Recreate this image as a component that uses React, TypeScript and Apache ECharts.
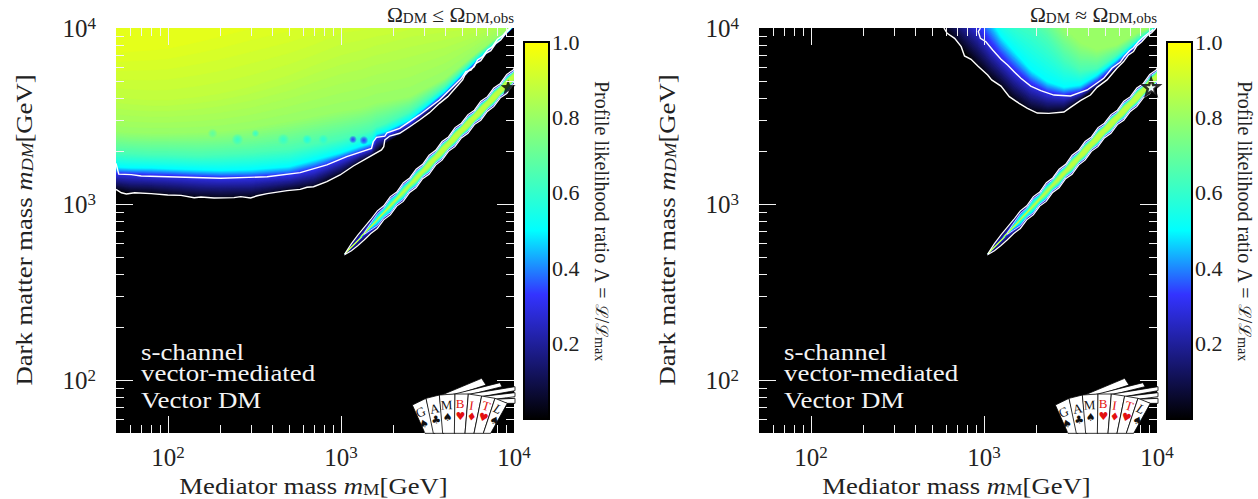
import React, { useEffect, useRef } from "react";
import * as echarts from "echarts";

const FONT = '"Liberation Serif", serif';

// ---- colour scale of the profile likelihood ratio
const colorStops: [number, number[]][] = [
  [0, [0, 0, 0]],
  [0.33, [51, 51, 255]],
  [0.5, [0, 255, 255]],
  [1, [255, 255, 0]],
];
const colorbarTicks = [0.2, 0.4, 0.6, 0.8, 1.0];

// ---- axes (GeV)
const axisMin = 50;
const axisMax = 10000;
const majorTicks = [100, 1000];
const minorTicks = [60, 70, 80, 90, 200, 300, 400, 500, 600, 700, 800, 900, 2000, 3000, 4000, 5000, 6000, 7000, 8000, 9000];

// ---- left panel: relic-density upper limit. Mediator mass knots and log10(mDM) of iso-likelihood curves
const leftMediator = [50, 60, 80, 100, 150, 200, 300, 500, 700, 1000, 1300, 1500, 1600, 1800, 2500, 4000, 6000, 10000];
const leftLevels = [0.03, 0.3, 0.5, 0.65, 0.8, 0.88, 0.95];
const leftOuter = [3.08, 3.064, 3.061, 3.051, 3.036, 3.032, 3.036, 3.074, 3.095, 3.165, 3.241, 3.269, 3.292, 3.345, 3.43, 3.606, 3.79, 4.008];
const leftInner = [3.17, 3.167, 3.161, 3.159, 3.15, 3.146, 3.148, 3.161, 3.193, 3.25, 3.292, 3.316, 3.373, 3.386, 3.458, 3.623, 3.799, 4.011];
const leftCyan = [3.21, 3.206, 3.205, 3.201, 3.195, 3.191, 3.195, 3.212, 3.25, 3.292, 3.33, 3.348, 3.398, 3.413, 3.481, 3.644, 3.816, 4.011];
const leftTeal = [3.292, 3.288, 3.282, 3.282, 3.277, 3.282, 3.292, 3.311, 3.341, 3.371, 3.402, 3.42, 3.439, 3.458, 3.525, 3.67, 3.833, 4.015];
const leftGreen = [3.411, 3.405, 3.402, 3.402, 3.405, 3.411, 3.43, 3.468, 3.496, 3.525, 3.544, 3.563, 3.572, 3.581, 3.61, 3.714, 3.856, 4.023];
const leftLime = [3.61, 3.6, 3.591, 3.591, 3.61, 3.629, 3.667, 3.733, 3.79, 3.847, 3.875, 3.894, 3.903, 3.913, 3.951, 3.979, 4.0, 4.083];
const leftYellow = [3.856, 3.866, 3.875, 3.884, 3.922, 3.951, 3.998, 4.045, 4.083, 4.159, 4.159, 4.159, 4.159, 4.159, 4.159, 4.159, 4.159, 4.159];

// white contour lines of the left panel, log10 mediator and log10 mDM
const leftOuterLineX = [1.699, 1.73, 1.759, 1.807, 1.902, 1.998, 2.075, 2.151, 2.19, 2.266, 2.381, 2.42, 2.477, 2.515, 2.573, 2.688, 2.764, 2.803, 2.841, 2.918, 2.994, 3.071, 3.148, 3.234, 3.247, 3.253, 3.282, 3.339, 3.397, 3.454, 3.511, 3.569, 3.617, 3.665, 3.703, 3.716, 3.741, 3.77, 3.789, 3.818, 3.847, 3.875, 3.904, 3.933, 3.962, 3.99];
const leftOuterLineY = [3.083, 3.064, 3.057, 3.064, 3.059, 3.051, 3.049, 3.036, 3.04, 3.034, 3.036, 3.042, 3.034, 3.047, 3.059, 3.076, 3.083, 3.095, 3.098, 3.127, 3.165, 3.216, 3.259, 3.307, 3.326, 3.364, 3.386, 3.402, 3.439, 3.477, 3.519, 3.572, 3.61, 3.663, 3.705, 3.733, 3.761, 3.78, 3.818, 3.837, 3.875, 3.894, 3.936, 3.955, 3.989, 4.008];
const leftInnerLineX = [1.699, 1.715, 1.787, 1.845, 1.998, 2.305, 2.573, 2.764, 2.918, 3.033, 3.176, 3.186, 3.205, 3.253, 3.266, 3.339, 3.454, 3.569, 3.693, 3.722, 3.751, 3.78, 3.808, 3.837, 3.866, 3.895, 3.923, 3.952, 3.981];
const leftInnerLineY = [3.231, 3.17, 3.167, 3.159, 3.155, 3.146, 3.155, 3.178, 3.222, 3.269, 3.316, 3.354, 3.379, 3.386, 3.405, 3.43, 3.506, 3.591, 3.71, 3.752, 3.761, 3.799, 3.814, 3.856, 3.871, 3.913, 3.932, 3.97, 3.998];

// isolated low-likelihood spots in the left panel: mediator, mDM, lambda, radius
const spotMediator = [1172, 1355, 790, 637, 464, 320, 252, 181];
const spotDM = [2327, 2300, 2327, 2327, 2327, 2518, 2327, 2518];
const spotLambda = [0.33, 0.33, 0.58, 0.55, 0.6, 0.6, 0.6, 0.68];
const spotRadius = [4, 4.5, 5, 5, 6, 4, 6, 5];

// ---- right panel: relic density saturated
const rightLogMediator = [2.715, 2.772, 2.868, 2.964, 3.04, 3.098, 3.174, 3.27, 3.366, 3.462, 3.557, 3.653, 3.768, 3.883, 4.0];
const rightLevels = [0.03, 0.3, 0.5, 0.65, 0.8];
const rightOuter = [4.083, 4.0, 3.894, 3.79, 3.714, 3.667, 3.591, 3.53, 3.515, 3.525, 3.591, 3.667, 3.78, 3.894, 4.008];
const rightInner = [4.2, 4.2, 4.1, 4.0, 3.894, 3.828, 3.752, 3.676, 3.629, 3.614, 3.633, 3.689, 3.79, 3.903, 4.011];
const rightCyan = [4.2, 4.2, 4.2, 4.159, 4.045, 3.951, 3.866, 3.761, 3.695, 3.663, 3.676, 3.733, 3.822, 3.922, 4.015];
const rightTeal = [4.2, 4.2, 4.2, 4.2, 4.2, 4.102, 4.065, 4.027, 3.941, 3.828, 3.761, 3.771, 3.847, 3.936, 4.019];
const rightGreen = [4.3, 4.3, 4.3, 4.3, 4.3, 4.3, 4.3, 4.2, 4.121, 4.0, 3.913, 3.875, 3.903, 3.97, 4.023];

const rightOuterLineX = [2.768, 2.787, 2.83, 2.868, 2.887, 2.925, 2.964, 3.021, 3.044, 3.098, 3.146, 3.203, 3.251, 3.308, 3.375, 3.462, 3.5, 3.557, 3.615, 3.653, 3.711, 3.768, 3.807, 3.835, 3.864, 3.883, 3.912, 3.941, 3.969, 3.994];
const rightOuterLineY = [4.0, 3.97, 3.941, 3.894, 3.841, 3.822, 3.784, 3.733, 3.705, 3.67, 3.61, 3.572, 3.544, 3.517, 3.515, 3.523, 3.549, 3.587, 3.619, 3.663, 3.705, 3.771, 3.809, 3.847, 3.866, 3.898, 3.922, 3.955, 3.973, 4.0];
const rightInnerLineX = [2.979, 2.967, 2.979, 3.011, 3.05, 3.098, 3.136, 3.174, 3.213, 3.27, 3.328, 3.404, 3.5, 3.596, 3.692, 3.739, 3.787, 3.81, 3.841, 3.864, 3.893, 3.921, 3.95, 3.979];
const rightInnerLineY = [4.0, 3.979, 3.941, 3.922, 3.875, 3.822, 3.79, 3.752, 3.714, 3.67, 3.644, 3.619, 3.614, 3.648, 3.714, 3.771, 3.805, 3.837, 3.871, 3.888, 3.922, 3.947, 3.97, 3.992];

// ---- resonance strip m_DM ~ m_M / 2: log10 mediator, log10 mDM centre, half widths (dex) per level
const stripLogMediator = [3.023, 3.06, 3.098, 3.135, 3.172, 3.21, 3.247, 3.285, 3.322, 3.36, 3.397, 3.434, 3.472, 3.509, 3.547, 3.584, 3.621, 3.659, 3.696, 3.734, 3.771, 3.808, 3.846, 3.883, 3.921, 3.958, 3.995, 4.02];
const stripCentre = [2.716, 2.755, 2.794, 2.833, 2.872, 2.911, 2.95, 2.99, 3.028, 3.068, 3.107, 3.145, 3.185, 3.223, 3.263, 3.302, 3.34, 3.38, 3.417, 3.455, 3.492, 3.53, 3.568, 3.606, 3.644, 3.682, 3.72, 3.745];
const stripLevels = [0.03, 0.3, 0.5, 0.7, 0.87];
const stripOuter = [0.003, 0.02, 0.03, 0.036, 0.04, 0.05, 0.04, 0.052, 0.04, 0.053, 0.041, 0.053, 0.041, 0.054, 0.042, 0.053, 0.041, 0.054, 0.042, 0.053, 0.041, 0.054, 0.042, 0.053, 0.041, 0.054, 0.042, 0.053];
const stripInner = [0, 0, 0, 0.005, 0.02, 0.034, 0.027, 0.04, 0.029, 0.041, 0.03, 0.042, 0.03, 0.043, 0.031, 0.042, 0.03, 0.043, 0.031, 0.042, 0.03, 0.043, 0.031, 0.042, 0.03, 0.043, 0.031, 0.042];
const stripCyan = [0, 0, 0, 0, 0.005, 0.018, 0.018, 0.028, 0.02, 0.03, 0.022, 0.032, 0.024, 0.034, 0.025, 0.034, 0.025, 0.034, 0.025, 0.034, 0.025, 0.034, 0.025, 0.034, 0.025, 0.034, 0.025, 0.034];
const stripGreen = [0, 0, 0, 0, 0, 0, 0, 0.008, 0.008, 0.016, 0.013, 0.021, 0.016, 0.025, 0.019, 0.026, 0.02, 0.026, 0.02, 0.026, 0.02, 0.026, 0.02, 0.026, 0.02, 0.026, 0.02, 0.026];
const stripCore = [0, 0, 0, 0, 0, 0, 0, 0, 0, 0, 0, 0.005, 0.005, 0.009, 0.008, 0.013, 0.01, 0.015, 0.011, 0.015, 0.011, 0.015, 0.011, 0.015, 0.011, 0.015, 0.011, 0.015];

const bestFit = [[9250, 4620]];

// ---- texts
const panelNotes = ["s-channel", "vector-mediated", "Vector DM"];
const xTitle = "{a|Mediator mass }{i|m}{s|M}{a|[GeV]}";
const yTitle = "{a|Dark matter mass }{i|m}{si|DM}{a|[GeV]}";

const lambdaRgb = (l: number) => {
  for (let i = 1; i < colorStops.length; i++) {
    if (l <= colorStops[i][0]) {
      const [a, ca] = colorStops[i - 1];
      const [b, cb] = colorStops[i];
      const t = (l - a) / (b - a);
      return ca.map((c, k) => Math.round(c + (cb[k] - c) * t));
    }
  }
  return colorStops[colorStops.length - 1][1];
};
const lambdaColor = (l: number, alpha = 1) => `rgba(${lambdaRgb(l).join(",")},${alpha})`;

type Shape = { kind: "polygon" | "polyline"; pts: number[][]; fill?: string; stroke?: string; width?: number };

// shade the gap between two read curves with steps of the colour scale
const shade = (levels: number[], curves: number[][], closure: (c: number[]) => number[][]): Shape[] => {
  const out: Shape[] = [];
  for (let i = 0; i < levels.length; i++) {
    const l1 = levels[i];
    const l0 = i ? levels[i - 1] : l1;
    const n = i ? Math.max(1, Math.ceil((l1 - l0) * 70)) : 1;
    for (let s = 1; s <= n; s++) {
      const t = s / n;
      const c = curves[i].map((v, k) => (i ? curves[i - 1][k] * (1 - t) + v * t : v));
      const col = lambdaColor(l0 + (l1 - l0) * t);
      out.push({ kind: "polygon", pts: closure(c), fill: col, stroke: col, width: 0.6 });
    }
  }
  return out;
};

const whiteLine = (xs: number[], ys: number[]): Shape => ({
  kind: "polyline",
  pts: xs.map((x, k) => [Math.pow(10, x), Math.pow(10, ys[k])]),
  stroke: "#fff",
  width: 1.4,
});

const regionShapes = (xs: number[], levels: number[], curves: number[][], lines: Shape[]): Shape[] => {
  const closure = (c: number[]) => [
    ...xs.map((x, k) => [x, Math.pow(10, c[k])]),
    [xs[xs.length - 1], 20000],
    [xs[0], 20000],
  ];
  return [...shade(levels, curves, closure), ...lines];
};

const stripShapes = (): Shape[] => {
  const xs = stripLogMediator.map((v) => Math.pow(10, v));
  const ring = (c: number[]) => [
    ...xs.map((x, k) => [x, Math.pow(10, stripCentre[k] + c[k])]),
    ...xs.map((x, k) => [x, Math.pow(10, stripCentre[k] - c[k])]).reverse(),
  ];
  const curves = [stripOuter, stripInner, stripCyan, stripGreen, stripCore];
  const white = (c: number[], from: number, stroke: string, width: number): Shape => {
    const up = xs.map((x, k) => [x, Math.pow(10, stripCentre[k] + c[k])]).slice(from);
    const dn = xs.map((x, k) => [x, Math.pow(10, stripCentre[k] - c[k])]).slice(from).reverse();
    return { kind: "polyline", pts: [...up, ...dn, up[0]], stroke, width };
  };
  return [...shade(stripLevels, curves, ring), white(stripInner, 3, "#dbe4ff", 0.9), white(stripOuter, 0, "#fff", 1.2)];
};

const shapeSeries = (idx: number, shapes: Shape[], z: number) => ({
  type: "custom",
  xAxisIndex: idx,
  yAxisIndex: idx,
  coordinateSystem: "cartesian2d",
  clip: true,
  silent: true,
  z,
  encode: { x: 1, y: 2 },
  data: shapes.map((_, i) => [i, 100, 100]),
  renderItem: (_p: any, api: any) => {
    const s = shapes[api.value(0)];
    return {
      type: s.kind,
      shape: { points: s.pts.map((p) => api.coord(p)) },
      style: { fill: s.kind === "polygon" ? s.fill : "none", stroke: s.stroke, lineWidth: s.width },
    };
  },
});

const spotSeries = (idx: number) => ({
  type: "custom",
  xAxisIndex: idx,
  yAxisIndex: idx,
  coordinateSystem: "cartesian2d",
  clip: true,
  silent: true,
  z: 4,
  encode: { x: 0, y: 1 },
  data: spotMediator.map((m, i) => [m, spotDM[i], spotLambda[i], spotRadius[i]]),
  renderItem: (_p: any, api: any) => {
    const c = api.coord([api.value(0), api.value(1)]);
    const l = api.value(2);
    return {
      type: "circle",
      shape: { cx: c[0], cy: c[1], r: api.value(3) },
      style: {
        fill: new echarts.graphic.RadialGradient(0.5, 0.5, 0.5, [
          { offset: 0, color: lambdaColor(l, 0.95) },
          { offset: 0.5, color: lambdaColor(l, 0.6) },
          { offset: 1, color: lambdaColor(l, 0) },
        ]),
      },
    };
  },
});

const tickSeries = (idx: number) => {
  const all = [...majorTicks.map((v) => [v, 17]), ...minorTicks.map((v) => [v, 8])];
  return {
    type: "custom",
    xAxisIndex: idx,
    yAxisIndex: idx,
    coordinateSystem: "cartesian2d",
    clip: false,
    silent: true,
    z: 8,
    encode: { x: 0, y: 0 },
    data: all,
    renderItem: (p: any, api: any) => {
      const v = api.value(0);
      const len = api.value(1);
      const { x, y, width, height } = p.coordSys;
      const px = Math.round(api.coord([v, 100])[0]) + 0.5;
      const py = Math.round(api.coord([100, v])[1]) + 0.5;
      const st = { stroke: "#f2f2f2", lineWidth: 1 };
      const mk = (x1: number, y1: number, x2: number, y2: number) => ({ type: "line", shape: { x1, y1, x2, y2 }, style: st });
      return {
        type: "group",
        children: [
          mk(px, y + height, px, y + height - len),
          mk(px, y, px, y + len),
          mk(x, py, x + len, py),
          mk(x + width, py, x + width - len, py),
        ],
      };
    },
  };
};

const labelRich = {
  b: { fontFamily: FONT, fontSize: 25, color: "#222", lineHeight: 26 },
  p: { fontFamily: FONT, fontSize: 17, color: "#222", padding: [0, 0, 10, 0] },
};
const powerLabel = (v: number) => {
  if (v < 99) return "";
  return `{b|10}{p|${Math.round(Math.log10(v))}}`;
};

const logAxis = (idx: number, isX: boolean) => ({
  type: "log",
  logBase: 10,
  gridIndex: idx,
  min: axisMin,
  max: axisMax,
  splitLine: { show: false },
  minorSplitLine: { show: false },
  axisLine: { show: false },
  axisTick: { show: false },
  minorTick: { show: false },
  axisLabel: { show: true, margin: isX ? 11 : 20, formatter: powerLabel, rich: labelRich, showMinLabel: true, showMaxLabel: true },
});

const cardsLogo = (dx: number) => {
  const P = (X: number, Y: number) => [X / 3 + 400 + dx, Y / 3 + 370];
  const poly = (pts: number[][]) => ({
    type: "polygon",
    z: 20,
    shape: { points: pts.map(([a, b]) => P(a, b)) },
    style: { fill: "#fff", stroke: "#000", lineWidth: 0.8 },
  });
  const glyph = (t: string, X: number, Y: number, col: string, rot: number, size: number, fam = FONT, style = "normal") => {
    const [x, y] = P(X, Y);
    return {
      type: "text",
      z: 21,
      x,
      y,
      rotation: rot,
      style: { text: t, fill: col, font: `${style} ${size}px ${fam}`, align: "center", verticalAlign: "middle" },
    };
  };
  const suit = '"DejaVu Sans"';
  return [
    poly([[118, 78], [245, 25], [258, 45], [165, 75]]),
    poly([[140, 78], [300, 38], [306, 50], [205, 75]]),
    poly([[190, 75], [345, 50], [345, 62], [245, 80]]),
    poly([[240, 80], [345, 68], [345, 80], [285, 88]]),
    poly([[280, 88], [345, 85], [345, 100], [322, 100]]),
    poly([[37, 105], [78, 85], [105, 190], [75, 190]]),
    poly([[78, 85], [118, 75], [132, 190], [100, 190]]),
    poly([[118, 75], [165, 72], [165, 190], [128, 190]]),
    poly([[165, 72], [205, 72], [195, 190], [163, 190]]),
    poly([[205, 72], [245, 78], [222, 190], [195, 190]]),
    poly([[245, 78], [285, 85], [250, 190], [222, 190]]),
    poly([[285, 85], [322, 100], [272, 190], [250, 190]]),
    glyph("G", 62, 126, "#111", 0.4, 13),
    glyph("♠", 72, 162, "#111", 0.35, 11, suit),
    glyph("A", 103, 116, "#111", 0.2, 13),
    glyph("♣", 108, 150, "#111", 0.15, 11, suit),
    glyph("M", 140, 105, "#111", 0.05, 13),
    glyph("♠", 143, 141, "#111", 0, 11, suit),
    glyph("B", 180, 100, "#e31010", 0, 13),
    glyph("♥", 181, 138, "#e31010", 0, 11, suit),
    glyph("I", 215, 106, "#e31010", -0.15, 13),
    glyph("♦", 215, 141, "#e31010", -0.15, 11, suit),
    glyph("T", 258, 108, "#e31010", -0.3, 13),
    glyph("♥", 250, 143, "#e31010", -0.3, 11, suit),
    glyph("L", 293, 116, "#111", -0.45, 13, FONT, "italic"),
    glyph("♠", 283, 152, "#111", -0.45, 11, suit),
  ];
};

const panelGraphics = (dx: number, relic: string) => {
  const rich = {
    a: { fontFamily: FONT, fontSize: 20, fill: "#222" },
    s: { fontFamily: FONT, fontSize: 14, fill: "#222", padding: [6, 0, 0, 0] },
  };
  const cbRich = {
    a: { fontFamily: FONT, fontSize: 20, fill: "#222" },
    i: { fontFamily: '"DejaVu Serif"', fontSize: 17, fill: "#222" },
    s: { fontFamily: FONT, fontSize: 14, fill: "#222", padding: [6, 0, 0, 0] },
  };
  const titleRich = {
    a: { fontFamily: FONT, fontSize: 23, fill: "#222" },
    i: { fontFamily: FONT, fontSize: 23, fontStyle: "italic", fill: "#222" },
    s: { fontFamily: FONT, fontSize: 16, fill: "#222", padding: [7, 0, 0, 0] },
    si: { fontFamily: FONT, fontSize: 16, fontStyle: "italic", fill: "#222", padding: [7, 0, 0, 0] },
  };
  return [
    ...panelNotes.map((t, i) => ({
      type: "text",
      z: 22,
      x: 141 + dx,
      y: [352, 373, 400][i],
      scaleX: 1.17,
      style: { text: t, fill: "#f4f4f4", font: `23px ${FONT}`, align: "left", verticalAlign: "middle" },
    })),
    {
      type: "text",
      z: 22,
      x: 514 + dx,
      y: 15,
      scaleX: 1.07,
      style: { text: relic, rich, align: "right", verticalAlign: "middle", fill: "#222", font: `20px ${FONT}` },
    },
    {
      type: "text",
      z: 22,
      x: 313.5 + dx,
      y: 486,
      scaleX: 1.16,
      style: { text: xTitle, rich: titleRich, align: "center", verticalAlign: "middle", fill: "#222", font: `23px ${FONT}` },
    },
    {
      type: "text",
      z: 22,
      x: 24 + dx,
      y: 230,
      rotation: Math.PI / 2,
      scaleX: 1.16,
      style: { text: yTitle, rich: titleRich, align: "center", verticalAlign: "middle", fill: "#222", font: `23px ${FONT}` },
    },
    {
      type: "text",
      z: 22,
      x: 602 + dx,
      y: 221,
      rotation: -Math.PI / 2,
      style: {
        text: "{a|Profile likelihood ratio Λ = }{i|ℒ}{a|/}{i|ℒ}{s|max}",
        rich: cbRich,
        align: "center",
        verticalAlign: "middle",
        fill: "#222",
        font: `20px ${FONT}`,
      },
    },
    ...cardsLogo(dx),
  ];
};

const starPath =
  "path://M50 2 L62 36 L98 37 L70 59 L80 94 L50 74 L20 94 L30 59 L2 37 L38 36 Z";

const leftShapes = regionShapes(
  leftMediator,
  leftLevels,
  [leftOuter, leftInner, leftCyan, leftTeal, leftGreen, leftLime, leftYellow],
  [whiteLine(leftInnerLineX, leftInnerLineY), whiteLine(leftOuterLineX, leftOuterLineY)]
);
const rightShapes = regionShapes(
  rightLogMediator.map((v) => Math.pow(10, v)),
  rightLevels,
  [rightOuter, rightInner, rightCyan, rightTeal, rightGreen],
  [whiteLine(rightInnerLineX, rightInnerLineY), whiteLine(rightOuterLineX, rightOuterLineY)]
);
const stripSet = stripShapes();

const colorbarSeries = (idx: number) => ({
  type: "bar",
  xAxisIndex: idx,
  yAxisIndex: idx,
  data: [1],
  barWidth: "100%",
  silent: true,
  z: 1,
  itemStyle: {
    color: new echarts.graphic.LinearGradient(
      0,
      1,
      0,
      0,
      colorStops.map(([o, c]) => ({ offset: o, color: `rgb(${c.join(",")})` }))
    ),
  },
});

const colorbarY = (idx: number) => ({
  type: "value",
  gridIndex: idx,
  position: "right",
  min: 0,
  max: 1,
  interval: 0.2,
  splitLine: { show: false },
  axisLine: { show: false },
  axisTick: { show: true, inside: true, length: 17, lineStyle: { color: "#000", width: 1.6 } },
  minorTick: { show: true, splitNumber: 4, length: 8, lineStyle: { color: "#000", width: 1.2 } },
  axisLabel: {
    margin: 3,
    fontFamily: FONT,
    fontSize: 22,
    color: "#222",
    formatter: (v: number) => (colorbarTicks.some((t) => Math.abs(t - v) < 1e-6) ? v.toFixed(1) : ""),
  },
});

const colorbarX = (idx: number) => ({
  type: "category",
  gridIndex: idx,
  data: ["Λ"],
  show: false,
});

export default function App() {
  const ref = useRef<HTMLDivElement>(null);
  useEffect(() => {
    const chart = echarts.init(ref.current!, undefined, { renderer: "svg" });
    const panel = (left: number) => ({
      left,
      top: 28,
      width: 398,
      height: 405,
      show: true,
      backgroundColor: "#000",
      borderWidth: 0,
      outerBoundsMode: "none",
    });
    const bar = (left: number) => ({
      left,
      top: 42,
      width: 25,
      height: 377,
      show: true,
      backgroundColor: "transparent",
      borderColor: "#000",
      borderWidth: 2,
      z: 5,
      outerBoundsMode: "none",
    });
    chart.setOption({
      animation: false,
      backgroundColor: "#fff",
      textStyle: { fontFamily: FONT },
      grid: [panel(116), bar(524), panel(759), bar(1167)],
      xAxis: [logAxis(0, true), colorbarX(1), logAxis(2, true), colorbarX(3)],
      yAxis: [logAxis(0, false), colorbarY(1), logAxis(2, false), colorbarY(3)],
      series: [
        shapeSeries(0, leftShapes, 2),
        spotSeries(0),
        shapeSeries(0, stripSet, 5),
        tickSeries(0),
        colorbarSeries(1),
        shapeSeries(2, rightShapes, 2),
        shapeSeries(2, stripSet, 5),
        tickSeries(2),
        colorbarSeries(3),
        {
          type: "scatter",
          xAxisIndex: 0,
          yAxisIndex: 0,
          data: bestFit,
          symbol: starPath,
          symbolSize: 15,
          z: 7,
          silent: true,
          clip: true,
          itemStyle: { color: "#000" },
        },
        {
          type: "scatter",
          xAxisIndex: 2,
          yAxisIndex: 2,
          data: bestFit,
          symbol: starPath,
          symbolSize: 16,
          z: 7,
          silent: true,
          itemStyle: { color: "#fff", borderColor: "#000", borderWidth: 2.5 },
        },
      ],
      graphic: [
        ...panelGraphics(0, "{a|Ω}{s|DM}{a| ≤ Ω}{s|DM,obs}"),
        ...panelGraphics(643, "{a|Ω}{s|DM}{a| ≈ Ω}{s|DM,obs}"),
      ],
    });
    return () => chart.dispose();
  }, []);
  return <div ref={ref} style={{ position: "absolute", left: 0, top: 0, width: 1258, height: 499 }} />;
}
